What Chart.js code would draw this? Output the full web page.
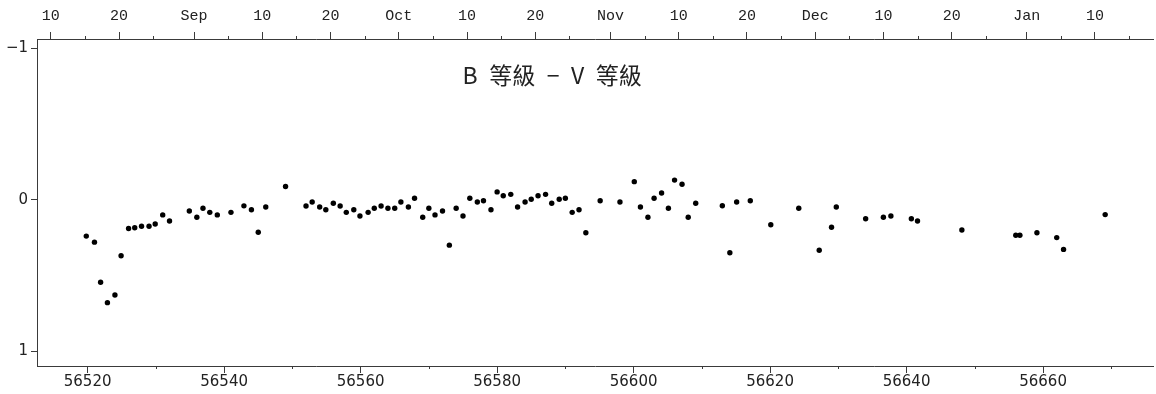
<!DOCTYPE html>
<html>
<head>
<meta charset="utf-8">
<title>B等級－V等級</title>
<script src="https://cdn.jsdelivr.net/npm/chart.js@4/dist/chart.umd.min.js"></script>
<style>
  html, body { margin: 0; padding: 0; background: #fff; }
  #wrap { width: 1156px; height: 394px; }
</style>
</head>
<body>
<div id="wrap"><canvas id="chartBV"></canvas></div>
<script>
// ─── Datos ────────────────────────────────────────────────────
const titulo = "B\u2002等級\u2002−\u2002V\u2002等級";

// MJD de cada observación
const mjd = [
  56519.8, 56521.0, 56521.9, 56522.9, 56524.0, 56524.9, 56526.0, 56526.9, 56527.9, 56529.0,
  56529.9, 56531.0, 56532.0, 56534.9, 56536.0, 56536.9, 56537.9, 56539.0, 56541.0, 56542.9,
  56544.0, 56545.0, 56546.1, 56549.0,
  56552.0, 56552.9, 56554.0, 56554.9, 56556.0, 56557.0, 56557.9, 56559.0, 56559.9, 56561.1,
  56562.0, 56563.0, 56564.0, 56565.0, 56565.9, 56567.0, 56567.9, 56569.1, 56570.0, 56570.9,
  56572.0, 56573.0, 56574.0, 56575.0, 56576.0, 56577.1, 56578.0, 56579.1, 56580.0, 56580.9,
  56582.0, 56583.0, 56584.1, 56585.0, 56586.0, 56587.1, 56588.0, 56589.1, 56590.0, 56591.0,
  56592.0,
  56593.0, 56595.1, 56598.0, 56600.1, 56601.0, 56602.1, 56603.0, 56604.1, 56605.1, 56606.0,
  56607.1, 56608.0, 56609.1, 56613.0, 56614.1, 56615.1, 56617.1, 56620.1, 56624.2, 56627.2,
  56629.0, 56629.7,
  56634.0, 56636.6, 56637.7, 56640.7, 56641.6, 56648.1, 56656.0, 56656.6, 56659.1, 56662.0,
  56663.0, 56669.1
];

// color B−V (mag)
const bv = [
  0.24, 0.28, 0.545, 0.68, 0.63, 0.37, 0.19, 0.185, 0.175, 0.175,
  0.16, 0.10, 0.14, 0.074, 0.116, 0.056, 0.083, 0.10, 0.083, 0.04,
  0.066, 0.215, 0.048, -0.088,
  0.041, 0.015, 0.048, 0.066, 0.023, 0.041, 0.083, 0.066, 0.107, 0.083,
  0.056, 0.041, 0.056, 0.056, 0.015, 0.048, -0.01, 0.116, 0.056, 0.10,
  0.074, 0.30, 0.056, 0.107, -0.01, 0.015, 0.006, 0.066, -0.052, -0.027,
  -0.036, 0.048, 0.015, -0.003, -0.027, -0.036, 0.023, -0.003, -0.01, 0.083,
  0.066,
  0.218, 0.006, 0.015, -0.12, 0.048, 0.116, -0.01, -0.045, 0.056, -0.13,
  -0.103, 0.116, 0.023, 0.039, 0.35, 0.015, 0.006, 0.165, 0.056, 0.334,
  0.182, 0.048,
  0.125, 0.116, 0.107, 0.125, 0.14, 0.20, 0.235, 0.235, 0.218, 0.25,
  0.328, 0.098
];

// eje inferior (MJD)
const ticksMJD      = [56520, 56540, 56560, 56580, 56600, 56620, 56640, 56660];
const ticksMJDMenor = [56530, 56550, 56570, 56590, 56610, 56630, 56650, 56670];

// eje superior (fechas 2013-2014, en MJD)
const etiquetasFecha = ["10", "20", "Sep", "10", "20", "Oct", "10", "20", "Nov", "10", "20", "Dec", "10", "20", "Jan", "10"];
const ticksFecha      = [56514, 56524, 56535, 56545, 56555, 56565, 56575, 56585, 56596, 56606, 56616, 56626, 56636, 56646, 56657, 56667];
const ticksFechaMenor = [56519, 56529, 56540, 56550, 56560, 56570, 56580, 56590, 56601, 56611, 56621, 56631, 56641, 56651, 56662, 56672];
const desfaseFecha = 0.6; // las marcas de fecha caen ~0.6 d a la derecha

// eje Y (invertido)
const ticksY = [-1, 0, 1];

// ─── Estilo ───────────────────────────────────────────────────
const colorEje   = "#3a3a3a";
const colorTexto = "#222";
const fuenteNum  = { family: "'DejaVu Sans', sans-serif", size: 15 };
const fuenteMono = { family: "'Liberation Mono', monospace", size: 15 };

// ─── Plugin: marcas menores + título ─────────────────────────
const extras = {
  id: "extras",
  afterDraw(chart) {
    const ctx = chart.ctx;
    const a = chart.chartArea;
    const xs = chart.scales.x;
    const xt = chart.scales.x2;
    ctx.save();
    ctx.strokeStyle = colorEje;
    ctx.lineWidth = 1;
    ctx.beginPath();
    ticksMJDMenor.forEach(v => {
      const px = Math.round(xs.getPixelForValue(v)) + 0.5;
      ctx.moveTo(px, a.bottom); ctx.lineTo(px, a.bottom + 3);
    });
    ticksFechaMenor.forEach(v => {
      const px = Math.round(xt.getPixelForValue(v + desfaseFecha)) + 0.5;
      ctx.moveTo(px, a.top); ctx.lineTo(px, a.top - 3);
    });
    ctx.stroke();

    ctx.fillStyle = colorTexto;
    ctx.font = "23px 'Noto Sans CJK TC', 'Noto Sans', sans-serif";
    ctx.textAlign = "center";
    ctx.textBaseline = "middle";
    ctx.fillText(titulo, a.left + (a.right - a.left) * 0.4615, a.top + 36);
    ctx.restore();
  }
};

// ─── Gráfico ─────────────────────────────────────────────────
const puntos = mjd.map((m, i) => ({ x: m, y: bv[i] }));
const xMin = 56512.58, xMax = 56676.15;

new Chart(document.getElementById("chartBV"), {
  type: "scatter",
  data: {
    datasets: [{
      data: puntos,
      backgroundColor: "#000",
      borderWidth: 0,
      pointRadius: 2.7,
      pointHoverRadius: 2.7
    }]
  },
  options: {
    responsive: true, maintainAspectRatio: false,
    animation: false,
    devicePixelRatio: 1,
    layout: { padding: 0 },
    plugins: { legend: { display: false }, tooltip: { enabled: false } },
    scales: {
      x: {
        type: "linear", position: "bottom", min: xMin, max: xMax,
        afterBuildTicks: s => { s.ticks = ticksMJD.map(v => ({ value: v })); },
        afterFit: s => { s.height = 28; },
        grid: { drawOnChartArea: false, tickLength: 7, color: colorEje },
        border: { color: colorEje },
        ticks: { color: colorTexto, font: fuenteNum, padding: 0, maxRotation: 0, autoSkip: false,
                 callback: v => String(v) }
      },
      x2: {
        type: "linear", position: "top", min: xMin, max: xMax,
        afterBuildTicks: s => { s.ticks = ticksFecha.map(v => ({ value: v + desfaseFecha })); },
        afterFit: s => { s.height = 39; },
        grid: { drawOnChartArea: false, tickLength: 7, color: colorEje },
        border: { color: colorEje },
        ticks: { color: colorTexto, font: fuenteMono, padding: 7, maxRotation: 0, autoSkip: false,
                 callback: (v, i) => etiquetasFecha[i] }
      },
      y: {
        type: "linear", reverse: true, min: -1.063, max: 1.099,
        afterBuildTicks: s => { s.ticks = ticksY.map(v => ({ value: v })); },
        afterFit: s => { s.width = 37; },
        grid: { drawOnChartArea: false, tickLength: 6, color: colorEje },
        border: { color: colorEje },
        ticks: { color: colorTexto, font: fuenteNum, padding: 3,
                 callback: v => String(v).replace("-", "−") }
      }
    }
  },
  plugins: [extras]
});
</script>
</body>
</html>
